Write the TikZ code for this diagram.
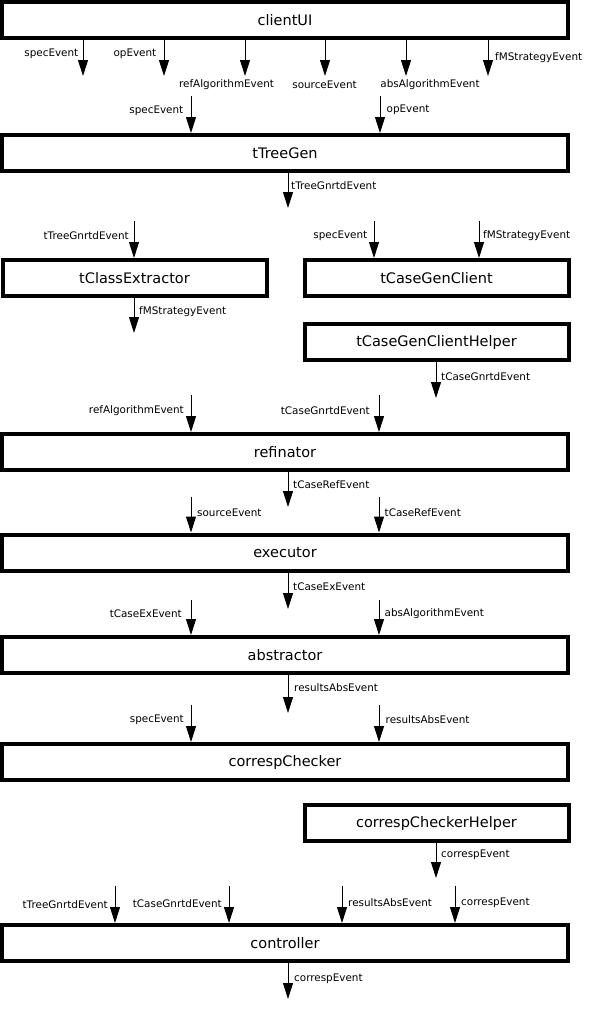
\documentclass[tikz,border=0pt]{standalone}
\usepackage{fontspec}
\setmainfont{DejaVu Sans}
\usetikzlibrary{arrows.meta}
\begin{document}
\begin{tikzpicture}[x=1pt,y=-1pt,
  block/.style={draw, line width=4pt, minimum height=36pt, inner sep=0pt,
                font=\fontsize{14.5}{16}\selectfont},
  wide/.style={block, minimum width=566pt},
  half/.style={block, minimum width=264pt},
  ev/.style={line width=1pt, -{Triangle[length=16pt,width=10pt]}},
  lbl/.style={inner sep=0pt, font=\fontsize{10.4}{12}\selectfont}]
\useasboundingbox (0,0) rectangle (595,1009);

% components
\node[wide] (clientUI)  at (285,20)    {clientUI};
\node[wide] (tTreeGen)  at (285,153)   {tTreeGen};
\node[half] (tClassExtractor) at (134.5,278) {tClassExtractor};
\node[half] (tCaseGenClient)  at (436.5,278) {tCaseGenClient};
\node[half] (tCaseGenClientHelper) at (436.5,342) {tCaseGenClientHelper};
\node[wide] (refinator) at (285,452)   {refinator};
\node[wide] (executor)  at (285,552.5) {executor};
\node[wide] (abstractor) at (285,655)  {abstractor};
\node[wide] (correspChecker) at (285,762) {correspChecker};
\node[half] (correspCheckerHelper) at (436.5,823) {correspCheckerHelper};
\node[wide] (controller) at (285,943)  {controller};

% events emitted by clientUI
\coordinate (u1) at (83,76);  \coordinate (u2) at (164,76);
\coordinate (u3) at (245,76); \coordinate (u4) at (325,76);
\coordinate (u5) at (406,76); \coordinate (u6) at (488,76);
\draw[ev] (clientUI.south -| u1) -- (u1);
\draw[ev] (clientUI.south -| u2) -- (u2);
\draw[ev] (clientUI.south -| u3) -- (u3);
\draw[ev] (clientUI.south -| u4) -- (u4);
\draw[ev] (clientUI.south -| u5) -- (u5);
\draw[ev] (clientUI.south -| u6) -- (u6);
\node[lbl, anchor=east] (lu1) at (78.5,54) {specEvent};
\node[lbl, anchor=east] (lu2) at (156.5,54) {opEvent};
\node[lbl] (lu3) at (226.5,85) {refAlgorithmEvent};
\node[lbl] (lu4) at (324.5,85) {sourceEvent};
\node[lbl] (lu5) at (430,85) {absAlgorithmEvent};
\node[lbl, anchor=west] (lu6) at (495,58) {fMStrategyEvent};

% tTreeGen
\coordinate (t1) at (191,96); \coordinate (t2) at (380,96);
\coordinate (t3) at (288,208);
\draw[ev] (t1) -- (t1 |- tTreeGen.north);
\draw[ev] (t2) -- (t2 |- tTreeGen.north);
\draw[ev] (tTreeGen.south -| t3) -- (t3);
\node[lbl, anchor=east] (lt1) at (183.5,111) {specEvent};
\node[lbl, anchor=west] (lt2) at (386.5,110) {opEvent};
\node[lbl, anchor=west] (lt3) at (291,186) {tTreeGnrtdEvent};

% tClassExtractor and tCaseGenClient
\coordinate (c1) at (134,221); \coordinate (c2) at (374,221);
\coordinate (c3) at (479,221); \coordinate (c4) at (134,333);
\coordinate (c5) at (436,398);
\draw[ev] (c1) -- (c1 |- tClassExtractor.north);
\draw[ev] (c2) -- (c2 |- tCaseGenClient.north);
\draw[ev] (c3) -- (c3 |- tCaseGenClient.north);
\draw[ev] (tClassExtractor.south -| c4) -- (c4);
\draw[ev] (tCaseGenClientHelper.south -| c5) -- (c5);
\node[lbl, anchor=east] (lc1) at (129,236) {tTreeGnrtdEvent};
\node[lbl, anchor=east] (lc2) at (367.5,236) {specEvent};
\node[lbl, anchor=west] (lc3) at (483,236) {fMStrategyEvent};
\node[lbl, anchor=west] (lc4) at (139,312) {fMStrategyEvent};
\node[lbl, anchor=west] (lc5) at (441,377) {tCaseGnrtdEvent};

% refinator
\coordinate (r1) at (191,395); \coordinate (r2) at (379,395);
\coordinate (r3) at (288,507);
\draw[ev] (r1) -- (r1 |- refinator.north);
\draw[ev] (r2) -- (r2 |- refinator.north);
\draw[ev] (refinator.south -| r3) -- (r3);
\node[lbl, anchor=east] (lr1) at (184,411) {refAlgorithmEvent};
\node[lbl, anchor=east] (lr2) at (370,411) {tCaseGnrtdEvent};
\node[lbl, anchor=west] (lr3) at (293,485) {tCaseRefEvent};

% executor
\coordinate (e1) at (191,497); \coordinate (e2) at (379,497);
\coordinate (e3) at (288,609);
\draw[ev] (e1) -- (e1 |- executor.north);
\draw[ev] (e2) -- (e2 |- executor.north);
\draw[ev] (executor.south -| e3) -- (e3);
\node[lbl, anchor=west] (le1) at (197,513) {sourceEvent};
\node[lbl, anchor=west] (le2) at (384.5,513) {tCaseRefEvent};
\node[lbl, anchor=west] (le3) at (293,587) {tCaseExEvent};

% abstractor
\coordinate (a1) at (191,600); \coordinate (a2) at (379,600);
\coordinate (a3) at (288,713);
\draw[ev] (a1) -- (a1 |- abstractor.north);
\draw[ev] (a2) -- (a2 |- abstractor.north);
\draw[ev] (abstractor.south -| a3) -- (a3);
\node[lbl, anchor=east] (la1) at (182,614) {tCaseExEvent};
\node[lbl, anchor=west] (la2) at (384.5,614) {absAlgorithmEvent};
\node[lbl, anchor=west] (la3) at (294,688) {resultsAbsEvent};

% correspChecker and its helper
\coordinate (k1) at (191,705); \coordinate (k2) at (379,705);
\coordinate (k3) at (436,878);
\draw[ev] (k1) -- (k1 |- correspChecker.north);
\draw[ev] (k2) -- (k2 |- correspChecker.north);
\draw[ev] (correspCheckerHelper.south -| k3) -- (k3);
\node[lbl, anchor=east] (lk1) at (184,720) {specEvent};
\node[lbl, anchor=west] (lk2) at (385.5,720) {resultsAbsEvent};
\node[lbl, anchor=west] (lk3) at (441,855) {correspEvent};

% controller
\coordinate (n1) at (115,886); \coordinate (n2) at (229,886);
\coordinate (n3) at (342,886); \coordinate (n4) at (455,886);
\coordinate (n5) at (288,999);
\draw[ev] (n1) -- (n1 |- controller.north);
\draw[ev] (n2) -- (n2 |- controller.north);
\draw[ev] (n3) -- (n3 |- controller.north);
\draw[ev] (n4) -- (n4 |- controller.north);
\draw[ev] (controller.south -| n5) -- (n5);
\node[lbl, anchor=east] (ln1) at (108,905) {tTreeGnrtdEvent};
\node[lbl, anchor=east] (ln2) at (222,904) {tCaseGnrtdEvent};
\node[lbl, anchor=west] (ln3) at (348,903) {resultsAbsEvent};
\node[lbl, anchor=west] (ln4) at (461,903) {correspEvent};
\node[lbl, anchor=west] (ln5) at (294,979) {correspEvent};
\end{tikzpicture}
\end{document}
